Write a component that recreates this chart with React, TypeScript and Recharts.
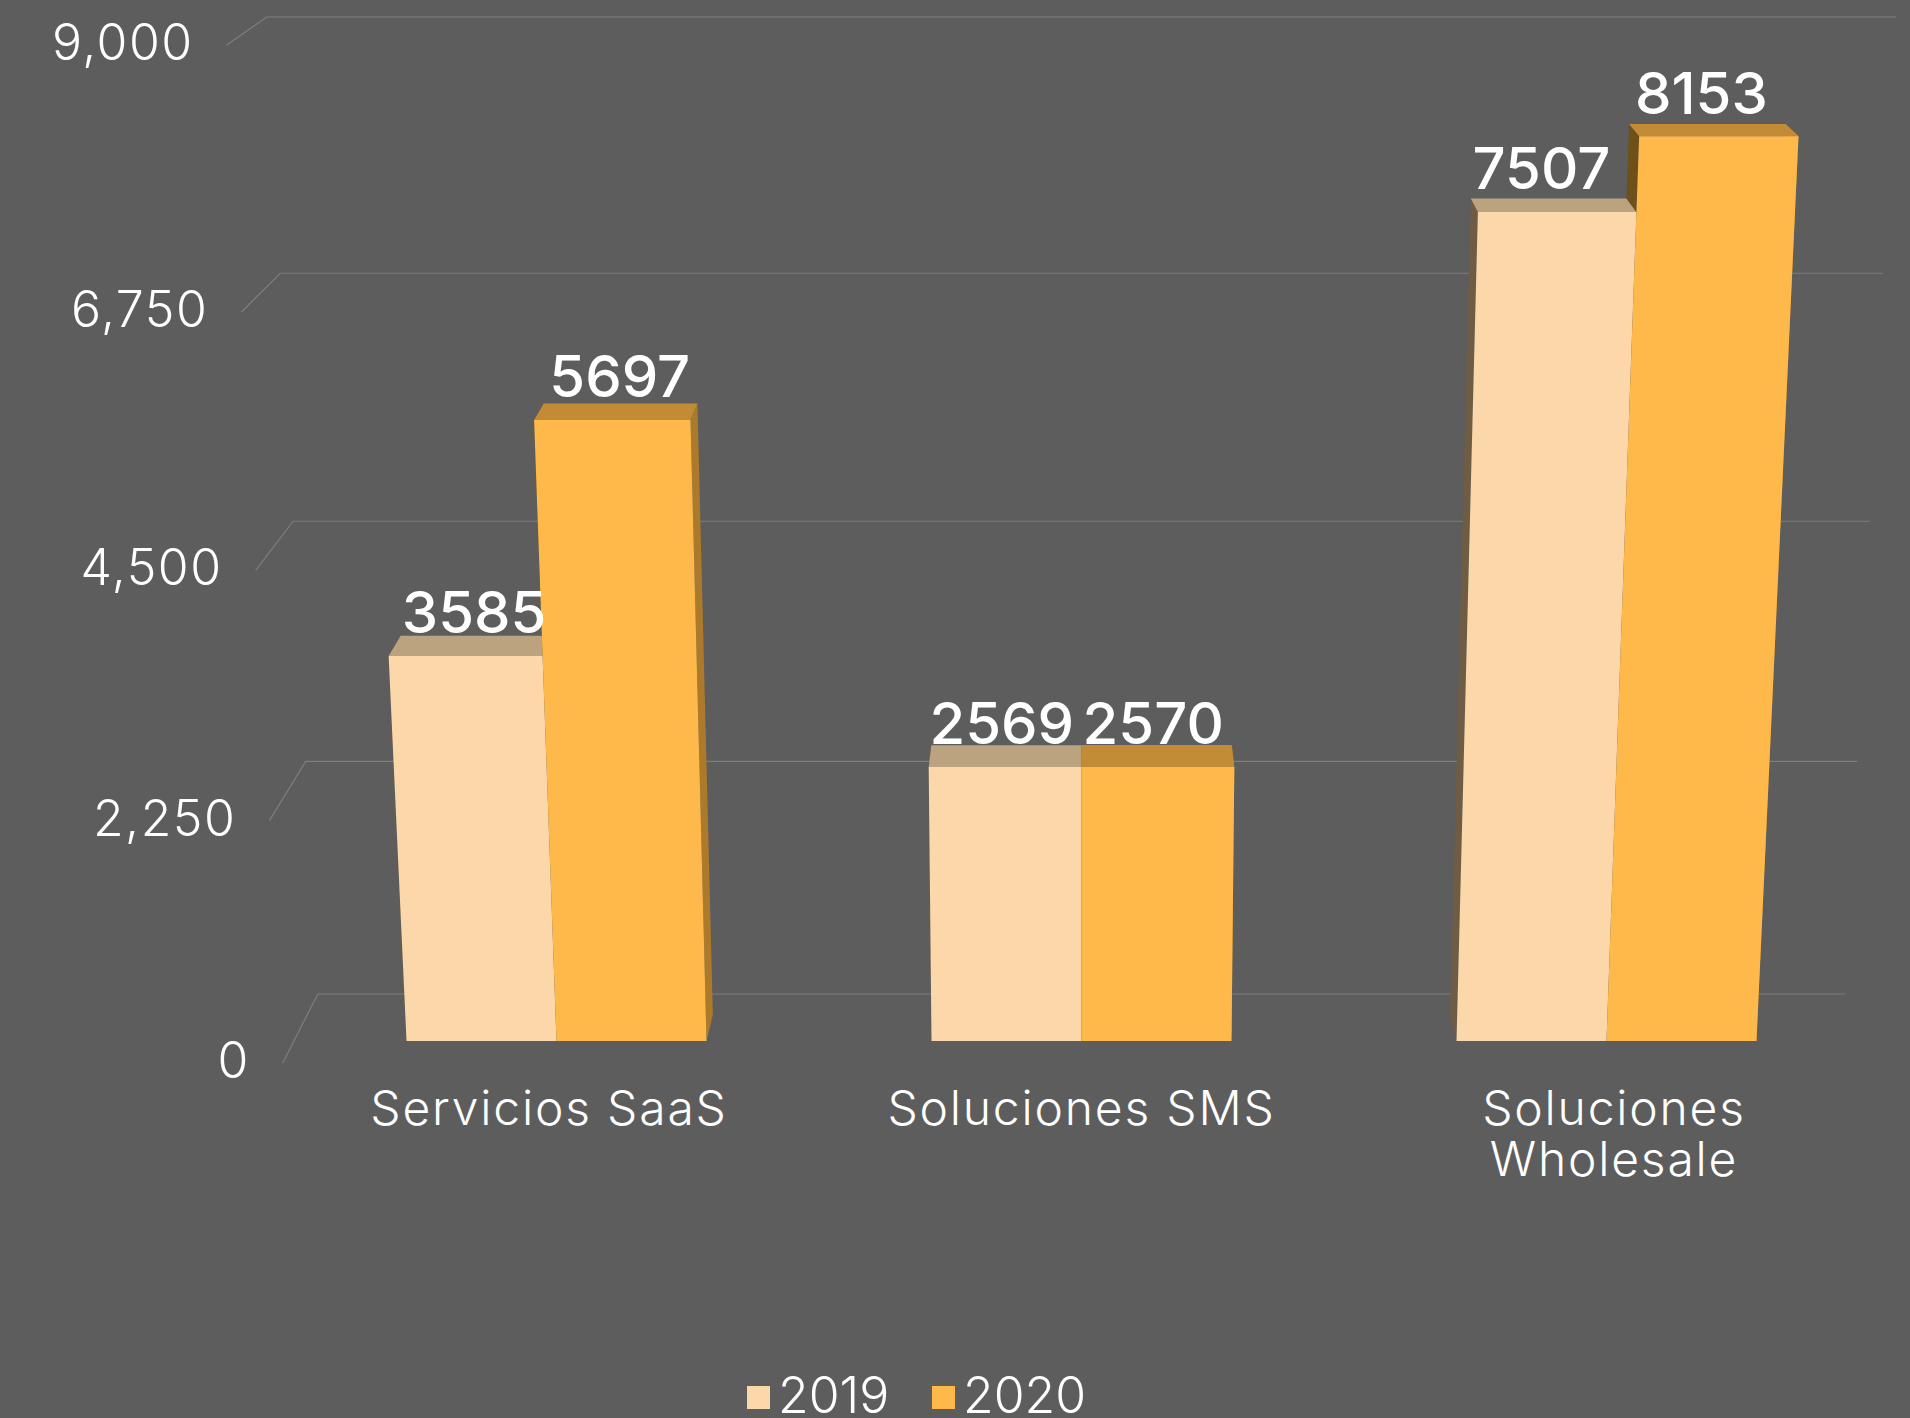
import React from 'react';
import { BarChart, Bar, XAxis, YAxis, CartesianGrid, Legend, LabelList } from 'recharts';

const categories = ['Servicios SaaS', 'Soluciones SMS', 'Soluciones\nWholesale'];
const values2019 = [3585, 2569, 7507];
const values2020 = [5697, 2570, 8153];
const yTicks = [0, 2250, 4500, 6750, 9000];
const rows = categories.map((name, i) => ({ name, v2019: values2019[i], v2020: values2020[i] }));

const W = 1910, H = 1418;
const BG = '#5D5D5D';
const FONT = 'Inter, Lato, sans-serif';
const PLOT_L = 294, PLOT_R = 1869, PLOT_T = 36, PLOT_B = 1041;
const VX = (PLOT_L + PLOT_R) / 2;
const T0 = 0.32, T1 = 0.70;

// 3D projection of a point of the flat plot: a plot x, a share of the value axis, a depth.
const persp = (u: number) => (u * (1 - 0.0624)) / (1 - 0.0624 * u);
const depthScale = (t: number) => 1 - 0.0439 * t;
const project = (px: number, u: number, t: number): [number, number] => {
  const g = persp(u);
  return [
    VX + ((px - VX) / depthScale(T0)) * depthScale(t) * (1 + (0.0702 - 0.0034 * t) * g),
    1063 - 69 * t - (1018 - 41 * t) * g,
  ];
};
const toU = (y: number) => (PLOT_B - y) / (PLOT_B - PLOT_T);
const poly = (pts: [number, number][]) => pts.map((p) => `${p[0].toFixed(2)},${p[1].toFixed(2)}`).join(' ');

const palette: Record<string, { front: string; top: string; left: string; right: string }> = {
  v2019: { front: '#FBD7A9', top: '#BBA380', left: '#6E5C45', right: '#A8916F' },
  v2020: { front: '#FFB94B', top: '#C28C36', left: '#6E5018', right: '#AC7A2A' },
};

const makeBar = (key: string, other: string, innerSide: 'left' | 'right') => (props: any) => {
  const { x, width, height, payload } = props;
  const c = palette[key];
  const u = height / (PLOT_B - PLOT_T);
  const un = payload[other] / 9000;
  const xr = x + width;
  const side = (px: number, lo: number, fill: string) => (
    <polygon fill={fill} points={poly([project(px, lo, T0), project(px, lo, T1), project(px, u, T1), project(px, u, T0)])} />
  );
  const leftLo = innerSide === 'left' ? un : 0;
  const rightLo = innerSide === 'right' ? un : 0;
  return (
    <g>
      {u > leftLo && side(x, leftLo, c.left)}
      {u > rightLo && side(xr, rightLo, c.right)}
      <polygon fill={c.top} points={poly([project(x, u, T0), project(xr, u, T0), project(xr, u, T1), project(x, u, T1)])} />
      <polygon fill={c.front} points={poly([project(x, 0, T0), project(xr, 0, T0), project(xr, u, T0), project(x, u, T0)])} />
    </g>
  );
};

const makeValueLabel = (dx: number) => (props: any) => {
  const { x, y, width, value } = props;
  const u = toU(y);
  const [cx] = project(x + width / 2, u, 0.8);
  const [, by] = project(x, u, T1);
  const lift = Math.max(1, 15 * persp(u) - 3);
  return (
    <text x={cx + dx} y={by - lift} textAnchor="middle" fill="#FFFFFF" fontFamily={FONT} fontSize={58} fontWeight={500}>
      {value}
    </text>
  );
};

const renderGridLine = (props: any) => {
  const u = toU(props.y1);
  const a = project(PLOT_L, u, 0);
  const b = project(PLOT_L, u, 1);
  const c = project(PLOT_R, u, 1);
  return (
    <polyline key={props.index} points={poly([a, b, c])} fill="none" stroke="#7E7E7E" strokeWidth={1.2} />
  );
};

const renderYTick = (props: any) => {
  const u = toU(props.y);
  const [tx, ty] = project(PLOT_L, u, 0);
  return (
    <text x={tx - 33} y={ty + 15} textAnchor="end" fill="#FFFFFF" fontFamily={FONT} fontSize={50} fontWeight={300} letterSpacing={1.5}>
      {Number(props.payload.value).toLocaleString('en-US')}
    </text>
  );
};

const renderXTick = (props: any) => {
  const [tx] = project(props.x, 0, 0);
  const lines = String(props.payload.value).split('\n');
  return (
    <text textAnchor="middle" fill="#FFFFFF" fontFamily={FONT} fontSize={48} fontWeight={300} letterSpacing={1.8}>
      {lines.map((l, i) => (
        <tspan key={i} x={tx} y={1125 + i * 51}>{l}</tspan>
      ))}
    </text>
  );
};

const renderLegend = () => (
  <div style={{ position: 'relative', height: 38, fontFamily: FONT, fontSize: 50, fontWeight: 300, color: '#FFFFFF' }}>
    {[
      { label: '2019', color: palette.v2019.front, left: 747 },
      { label: '2020', color: palette.v2020.front, left: 932 },
    ].map((it) => (
      <div key={it.label}>
        <div style={{ position: 'absolute', left: it.left, top: 10, width: 23, height: 23, background: it.color }} />
        <div style={{ position: 'absolute', left: it.left + 31, top: 1, lineHeight: '36px' }}>{it.label}</div>
      </div>
    ))}
  </div>
);

export default function App() {
  return (
    <div style={{ position: 'fixed', left: 0, top: 0, width: W, height: H, background: BG, overflow: 'hidden' }}>
      <BarChart
        width={W}
        height={H}
        data={rows}
        margin={{ left: PLOT_L - 60, right: W - PLOT_R, top: PLOT_T, bottom: H - PLOT_B - 40 }}
        barCategoryGap="21.43%"
        barGap={0}
      >
        <CartesianGrid vertical={false} horizontal={renderGridLine} />
        <XAxis dataKey="name" height={40} interval={0} axisLine={false} tickLine={false} tick={renderXTick} />
        <YAxis width={60} domain={[0, 9000]} ticks={yTicks} interval={0} axisLine={false} tickLine={false} tick={renderYTick} />
        <Legend
          verticalAlign="middle"
          align="center"
          content={renderLegend}
          wrapperStyle={{ top: 1376, left: 0, width: W }}
        />
        <Bar dataKey="v2019" name="2019" fill={palette.v2019.front} isAnimationActive={false} shape={makeBar('v2019', 'v2020', 'right')}>
          <LabelList content={makeValueLabel(-5)} />
        </Bar>
        <Bar dataKey="v2020" name="2020" fill={palette.v2020.front} isAnimationActive={false} shape={makeBar('v2020', 'v2019', 'left')}>
          <LabelList content={makeValueLabel(-3)} />
        </Bar>
      </BarChart>
    </div>
  );
}
